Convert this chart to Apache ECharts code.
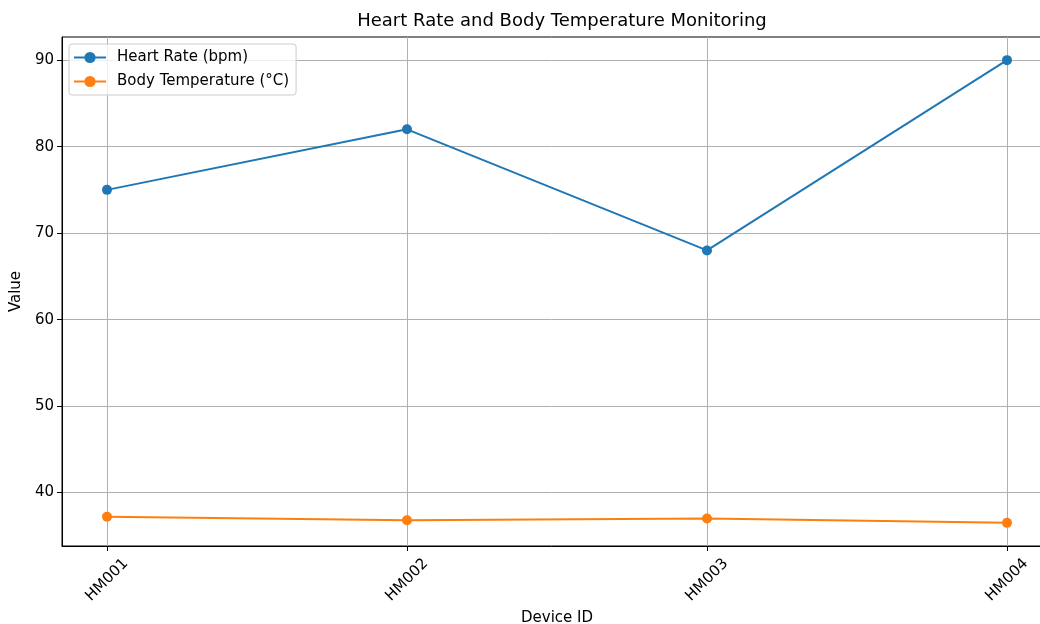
<!DOCTYPE html>
<html>
<head>
<meta charset="utf-8">
<script src="https://cdn.jsdelivr.net/npm/echarts@6/dist/echarts.min.js"></script>
<style>
html,body{margin:0;padding:0;background:#fff;}
#chart{width:1040px;height:624px;}
</style>
</head>
<body>
<div id="chart"></div>
<script>
var categories = ['HM001', 'HM002', 'HM003', 'HM004'];
var heartRate = [75, 82, 68, 90];
var bodyTemp = [37.2, 36.8, 37.0, 36.5];
var yTicks = [40, 50, 60, 70, 80, 90];

var font = 'DejaVu Sans';
function pairs(arr){ return arr.map(function(v,i){ return [i, v]; }); }
var xIdx = categories.map(function(c,i){ return i; });

var chart = echarts.init(document.getElementById('chart'), null, {renderer:'canvas'});
chart.setOption({
  animation: false,
  backgroundColor: '#ffffff',
  textStyle: {fontFamily: font},
  title: {
    text: 'Heart Rate and Body Temperature Monitoring',
    left: 557, top: 7, textAlign: 'center',
    textStyle: {fontFamily: font, fontSize: 18, fontWeight: 'normal', color: '#000'}
  },
  legend: {
    orient: 'vertical', left: 69, top: 44,
    itemWidth: 32, itemHeight: 14, itemGap: 9,
    padding: [6, 7, 6, 4],
    borderColor: '#cccccc', borderWidth: 1, borderRadius: 3,
    backgroundColor: 'rgba(255,255,255,0.8)',
    textStyle: {fontFamily: font, fontSize: 15, color: '#000', padding: [0, 0, 0, 6]},
    data: ['Heart Rate (bpm)', 'Body Temperature (°C)']
  },
  grid: {
    left: 62, right: -12, top: 37, bottom: 78, containLabel: false, outerBoundsMode: 'none',
    show: true, borderColor: '#000', borderWidth: 1, backgroundColor: 'transparent'
  },
  xAxis: {
    type: 'value', min: -0.15, max: 3.15,
    name: 'Device ID', nameLocation: 'middle', nameGap: 65, nameMoveOverlap: false,
    nameTextStyle: {fontFamily: font, fontSize: 15, color: '#000'},
    axisLine: {show: true, onZero: false, lineStyle: {color: '#000', width: 1}},
    axisTick: {show: true, length: 5, lineStyle: {color: '#000'}, customValues: xIdx},
    axisLabel: {
      customValues: xIdx, rotate: 45, align: 'center', verticalAlign: 'middle', margin: 34,
      fontFamily: font, fontSize: 15, color: '#000',
      formatter: function(v){ return categories[Math.round(v)]; }
    },
    splitLine: {show: true, lineStyle: {color: '#b0b0b0', width: 1}}
  },
  yAxis: {
    type: 'value', min: 33.825, max: 92.675,
    name: 'Value', nameLocation: 'middle', nameGap: 38, nameMoveOverlap: false,
    nameTextStyle: {fontFamily: font, fontSize: 15, color: '#000'},
    axisLine: {show: true, onZero: false, lineStyle: {color: '#000', width: 1}},
    axisTick: {show: true, length: 5, lineStyle: {color: '#000'}, customValues: yTicks},
    axisLabel: {customValues: yTicks, fontFamily: font, fontSize: 15, color: '#000', margin: 8},
    splitLine: {show: true, lineStyle: {color: '#b0b0b0', width: 1}}
  },
  series: [
    {
      name: 'Heart Rate (bpm)', type: 'line', data: pairs(heartRate),
      symbol: 'circle', symbolSize: 10, showAllSymbol: true,
      lineStyle: {color: '#1f77b4', width: 2}, itemStyle: {color: '#1f77b4'}
    },
    {
      name: 'Body Temperature (°C)', type: 'line', data: pairs(bodyTemp),
      symbol: 'circle', symbolSize: 10, showAllSymbol: true,
      lineStyle: {color: '#ff7f0e', width: 2}, itemStyle: {color: '#ff7f0e'}
    }
  ]
});
</script>
</body>
</html>
